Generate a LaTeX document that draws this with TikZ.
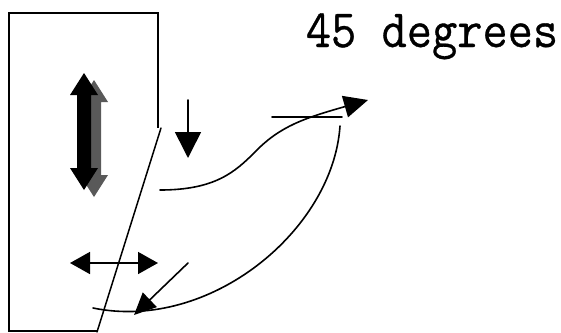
\documentclass[tikz,border=0pt]{standalone}
\usepackage{fontspec}
\newfontfamily\labelfont[FakeBold=0.6]{Latin Modern Mono}
\usetikzlibrary{arrows.meta}
\tikzset{
  thin line/.style={line width=1.6pt, line cap=round},
  frame line/.style={line width=2pt},
  both tips/.style={{Triangle[length=20pt,width=22pt]}-{Triangle[length=20pt,width=22pt]}},
}
\begin{document}
\begin{tikzpicture}[x=1pt,y=-1pt]
  \useasboundingbox (0,0) rectangle (561,332);

  % housing outline with cut-off corner
  \draw[frame line] (98,331) -- (9,331) -- (9,13) -- (158,13) -- (158,128);
  \draw[thin line, line width=1.5pt] (161,128) -- (97,332);

  % heavy vertical double arrow with its shadow
  \def\bigarrow#1#2#3{%
    \fill[#3] ({#1},{#2+73}) -- ({#1+14},{#2+95}) -- ({#1+7},{#2+95}) --
      ({#1+7},{#2+168}) -- ({#1+14},{#2+168}) -- ({#1},{#2+190}) --
      ({#1-14},{#2+168}) -- ({#1-7},{#2+168}) -- ({#1-7},{#2+95}) --
      ({#1-14},{#2+95}) -- cycle;}
  \bigarrow{94}{7}{black!65}
  \bigarrow{84}{0}{black}

  % horizontal double arrow
  \coordinate (hl) at (70,263);
  \coordinate (hr) at (158,263);
  \draw[thin line, both tips] (hl) -- (hr);

  % downward arrow
  \coordinate (dtop) at (188,100);
  \coordinate (dtip) at (188,158);
  \draw[thin line, -{Triangle[length=26pt,width=26pt]}] (dtop) -- (dtip);

  % rising S-curve ending in the arrow at the top
  \coordinate (sstart) at (160,190);
  \coordinate (stip) at (368,100);
  \draw[thin line, -{Triangle[length=24pt,width=22pt]}] (sstart)
    .. controls (215,190) and (235,172) .. (255,152)
    .. controls (280,126) and (305,118) .. (stip);

  % short level line near the upper arrow
  \coordinate (lvla) at (272,117);
  \coordinate (lvlb) at (342,117);
  \draw[thin line] (lvla) -- (lvlb);

  % long return curve down to the lower corner
  \coordinate (rtop) at (340,126);
  \coordinate (rend) at (93,308);
  \draw[thin line] (rtop) .. controls (333,230) and (210,332) .. (rend);

  % diagonal arrow into the lower corner
  \coordinate (gtail) at (188,263);
  \coordinate (gtip) at (134,315);
  \draw[thin line, -{Triangle[length=22pt,width=20pt]}] (gtail) -- (gtip);

  % label
  \node[anchor=base, inner sep=0pt] (deg) at (432,47)
    {\scalebox{1}[1.1]{\labelfont\fontsize{49pt}{49pt}\selectfont 45 degrees}};
\end{tikzpicture}
\end{document}
